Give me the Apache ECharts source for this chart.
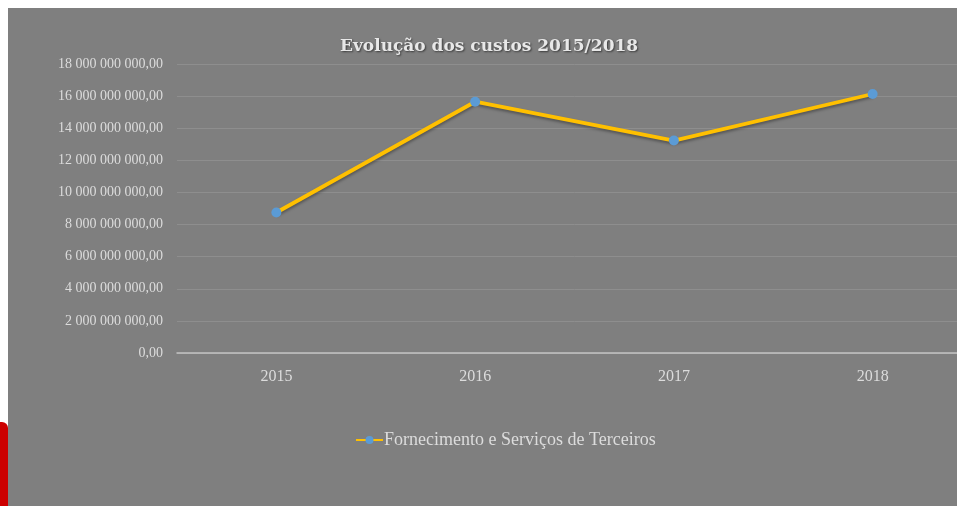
<!DOCTYPE html>
<html>
<head>
<meta charset="utf-8">
<script src="https://cdn.jsdelivr.net/npm/echarts@6/dist/echarts.min.js"></script>
<style>
  html, body { margin: 0; padding: 0; background: #ffffff; overflow: hidden; }
  #faixa { position: absolute; left: 0; top: 422px; width: 8px; height: 84px; background: #cc0000; border-top-right-radius: 6px; }
  #main { position: absolute; left: 8px; top: 8px; width: 964px; height: 498px; }
</style>
</head>
<body>
<div id="faixa"></div>
<div id="main"></div>
<script>
// dados do gráfico
const anos = ['2015', '2016', '2017', '2018']
const custos = [8750000000, 15650000000, 13230000000, 16130000000]
const nomeSerie = 'Fornecimento e Serviços de Terceiros'

// formato 18 000 000 000,00
function formatar(v) {
  let partes = v.toFixed(2).split('.')
  let inteiro = partes[0].replace(/\B(?=(\d{3})+(?!\d))/g, ' ')
  return inteiro + ',' + partes[1]
}

const myChart = echarts.init(document.getElementById('main'))
myChart.setOption({
  backgroundColor: '#7f7f7f',
  animation: false,
  title: {
    text: 'Evolução dos custos 2015/2018',
    left: 327,
    top: 25,
    textStyle: {
      fontFamily: 'DejaVu Serif',
      fontSize: 17,
      fontWeight: 'bold',
      color: '#e8e8e8',
      textShadowColor: 'rgba(0,0,0,0.55)',
      textShadowBlur: 2,
      textShadowOffsetX: 1,
      textShadowOffsetY: 1
    }
  },
  legend: {
    left: 342,
    top: 418,
    itemWidth: 27,
    itemHeight: 10,
    itemGap: 10,
    textStyle: {
      fontFamily: 'Liberation Serif',
      fontSize: 18,
      color: '#dcdcdc',
      padding: [0, 0, 0, -4]
    },
    data: [nomeSerie]
  },
  grid: {
    left: 169,
    right: 0,
    top: 56,
    bottom: 153,
    containLabel: false
  },
  xAxis: {
    type: 'category',
    boundaryGap: true,
    data: anos,
    axisTick: { show: false },
    axisLine: { lineStyle: { color: '#c4c4c4', width: 1.5 } },
    axisLabel: {
      margin: 16,
      fontFamily: 'Liberation Serif',
      fontSize: 16,
      color: '#dcdcdc'
    }
  },
  yAxis: {
    type: 'value',
    min: 0,
    max: 18000000000,
    interval: 2000000000,
    axisLine: { show: false },
    axisTick: { show: false },
    splitLine: { lineStyle: { color: '#8e8e8e', width: 1 } },
    axisLabel: {
      margin: 14,
      fontFamily: 'Liberation Serif',
      fontSize: 14,
      color: '#dcdcdc',
      formatter: formatar
    }
  },
  series: [
    {
      name: nomeSerie,
      type: 'line',
      data: custos,
      symbol: 'circle',
      symbolSize: 10,
      itemStyle: { color: '#5b9bd5' },
      lineStyle: {
        color: '#ffc000',
        width: 3.8,
        shadowColor: 'rgba(0,0,0,0.35)',
        shadowBlur: 3,
        shadowOffsetY: 2
      }
    }
  ]
})
</script>
</body>
</html>
